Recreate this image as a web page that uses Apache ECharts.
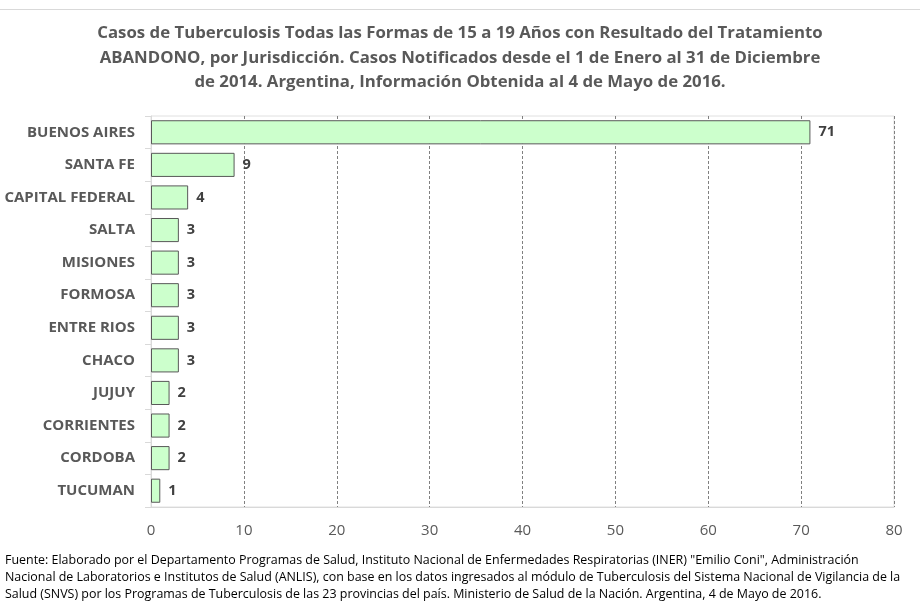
<!DOCTYPE html>
<html><head><meta charset="utf-8">
<script src="https://cdn.jsdelivr.net/npm/echarts@6/dist/echarts.min.js"></script>
<style>html,body{margin:0;padding:0;background:#fff}#c{width:920px;height:611px}</style>
</head><body><div id="c"></div>
<script>
const categories = ["BUENOS AIRES","SANTA FE","CAPITAL FEDERAL","SALTA","MISIONES","FORMOSA","ENTRE RIOS","CHACO","JUJUY","CORRIENTES","CORDOBA","TUCUMAN"];
const values = [71,9,4,3,3,3,3,3,2,2,2,1];
const xTicks = [0,10,20,30,40,50,60,70,80];
const titleText = "Casos de Tuberculosis Todas las Formas de 15 a 19 Años con Resultado del Tratamiento\nABANDONO, por Jurisdicción. Casos Notificados desde el 1 de Enero al 31 de Diciembre\nde 2014. Argentina, Información Obtenida al 4 de Mayo de 2016.";
const footText = "Fuente: Elaborado por el Departamento Programas de Salud, Instituto Nacional de Enfermedades Respiratorias (INER) \"Emilio Coni\", Administración\nNacional de Laboratorios e Institutos de Salud (ANLIS), con base en los datos ingresados al módulo de Tuberculosis del Sistema Nacional de Vigilancia de la\nSalud (SNVS) por los Programas de Tuberculosis de las 23 provincias del país. Ministerio de Salud de la Nación. Argentina, 4 de Mayo de 2016.";
const FONT = "'Open Sans', sans-serif";
const chart = echarts.init(document.getElementById('c'));
chart.setOption({
  animation:false,
  graphic:[
    {type:'line',shape:{x1:0,y1:9.5,x2:920,y2:9.5},style:{stroke:'#d9d9d9',lineWidth:1}},
    {type:'text',x:460,y:21,style:{text:titleText,align:'center',verticalAlign:'top',
      font:"bold 16.8px 'Open Sans', sans-serif",fill:'#595959',lineHeight:24.5}},
    {type:'text',x:5,y:552,style:{text:footText,align:'left',verticalAlign:'top',
      font:"12.45px 'Open Sans', sans-serif",fill:'#000',lineHeight:17}}
  ],
  grid:{left:151,right:26,top:116,bottom:104,containLabel:false,show:true,borderColor:'#e0e0e0',borderWidth:1},
  xAxis:{type:'value',min:0,max:80,interval:10,
    axisLine:{show:true,lineStyle:{color:'#d9d9d9'}},axisTick:{show:false},
    splitLine:{show:true,lineStyle:{type:[3,2],color:'#808080',width:1}},
    axisLabel:{fontFamily:FONT,fontSize:15,color:'#595959',margin:16,
      formatter:v=>xTicks.includes(v)?String(v):''}},
  yAxis:{type:'category',data:categories,inverse:true,
    axisLine:{show:true,lineStyle:{color:'#d9d9d9'}},
    axisTick:{show:true,length:6,lineStyle:{color:'#d9d9d9'}},
    axisLabel:{fontFamily:FONT,fontWeight:'bold',fontSize:15,color:'#595959',margin:16}},
  series:[{type:'bar',data:values,barWidth:'74%',
    itemStyle:{color:'#ccffcc',borderColor:'#595959',borderWidth:1},
    label:{show:true,position:'right',distance:8,fontFamily:FONT,fontWeight:'bold',fontSize:14.5,color:'#404040'}}]
});
</script></body></html>
